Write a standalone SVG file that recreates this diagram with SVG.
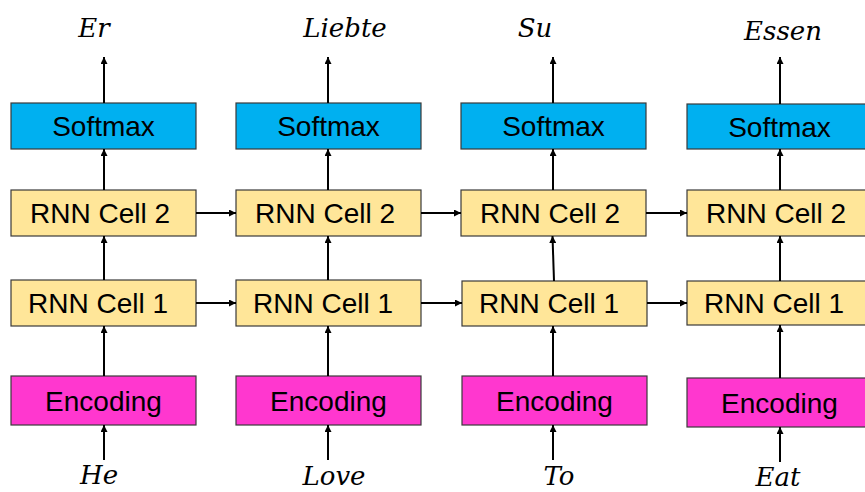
<svg xmlns="http://www.w3.org/2000/svg" width="865" height="492" viewBox="0 0 865 492">
  <defs>
    <marker id="arrow" viewBox="0 0 10 10" refX="10" refY="5" markerWidth="7" markerHeight="7" markerUnits="userSpaceOnUse" orient="auto">
      <path d="M0,0 L10,5 L0,10 Z" fill="#000"/>
    </marker>
    <style>
      .box { stroke: #3a3a3a; stroke-width: 1.2; }
      .soft { fill: #00B0F0; }
      .rnn { fill: #FFE699; }
      .enc { fill: #FF37CF; }
      .lbl { font-family: "Liberation Sans", Arial, sans-serif; font-size: 28px; fill: #000; text-anchor: middle; }
      .word { font-family: "DejaVu Serif", "Liberation Serif", serif; font-style: italic; font-size: 26px; fill: #000; text-anchor: middle; }
      .conn line { stroke: #000; stroke-width: 2; marker-end: url(#arrow); }
    </style>
  </defs>
  <rect width="865" height="492" fill="#fff"/>

  <!-- column 1 -->
  <g id="softmax-1"><rect class="box soft" x="11" y="103" width="185" height="46"/><text class="lbl" x="103.5" y="136">Softmax</text></g>
  <g id="rnn2-1"><rect class="box rnn" x="11" y="190" width="185" height="46"/><text class="lbl" x="100" y="223">RNN Cell 2</text></g>
  <g id="rnn1-1"><rect class="box rnn" x="11" y="280" width="185" height="46"/><text class="lbl" x="98" y="313">RNN Cell 1</text></g>
  <g id="enc-1"><rect class="box enc" x="11" y="376" width="185" height="49"/><text class="lbl" x="103.5" y="411">Encoding</text></g>
  <g id="out-1"><text class="word" x="94" y="37">Er</text></g>
  <g id="in-1"><text class="word" x="99" y="484">He</text></g>

  <!-- column 2 -->
  <g id="softmax-2"><rect class="box soft" x="236" y="103" width="185" height="46"/><text class="lbl" x="328.5" y="136">Softmax</text></g>
  <g id="rnn2-2"><rect class="box rnn" x="236" y="190" width="185" height="46"/><text class="lbl" x="325" y="223">RNN Cell 2</text></g>
  <g id="rnn1-2"><rect class="box rnn" x="236" y="280" width="185" height="46"/><text class="lbl" x="323" y="313">RNN Cell 1</text></g>
  <g id="enc-2"><rect class="box enc" x="236" y="376" width="185" height="49"/><text class="lbl" x="328.5" y="411">Encoding</text></g>
  <g id="out-2"><text class="word" x="345" y="37">Liebte</text></g>
  <g id="in-2"><text class="word" x="334" y="485">Love</text></g>

  <!-- column 3 -->
  <g id="softmax-3"><rect class="box soft" x="461" y="103" width="185" height="46"/><text class="lbl" x="553.5" y="136">Softmax</text></g>
  <g id="rnn2-3"><rect class="box rnn" x="461" y="190" width="185" height="46"/><text class="lbl" x="550" y="223">RNN Cell 2</text></g>
  <g id="rnn1-3"><rect class="box rnn" x="462" y="281" width="185" height="45"/><text class="lbl" x="549" y="313">RNN Cell 1</text></g>
  <g id="enc-3"><rect class="box enc" x="462" y="376" width="185" height="49"/><text class="lbl" x="554.5" y="411">Encoding</text></g>
  <g id="out-3"><text class="word" x="535" y="37">Su</text></g>
  <g id="in-3"><text class="word" x="559" y="485">To</text></g>

  <!-- column 4 -->
  <g id="softmax-4"><rect class="box soft" x="687" y="104" width="185" height="45"/><text class="lbl" x="779.5" y="137">Softmax</text></g>
  <g id="rnn2-4"><rect class="box rnn" x="687" y="190" width="185" height="46"/><text class="lbl" x="776" y="223">RNN Cell 2</text></g>
  <g id="rnn1-4"><rect class="box rnn" x="687" y="281" width="185" height="44"/><text class="lbl" x="774" y="313">RNN Cell 1</text></g>
  <g id="enc-4"><rect class="box enc" x="687" y="378" width="185" height="49"/><text class="lbl" x="779.5" y="413">Encoding</text></g>
  <g id="out-4"><text class="word" x="783" y="40">Essen</text></g>
  <g id="in-4"><text class="word" x="778" y="486">Eat</text></g>

  <!-- connectors -->
  <g class="conn" id="connectors">
    <!-- upward flow -->
    <line x1="104" y1="460" x2="104" y2="425"/>
    <line x1="104" y1="376" x2="104" y2="326"/>
    <line x1="104" y1="280" x2="104" y2="236"/>
    <line x1="104" y1="190" x2="104" y2="149"/>
    <line x1="104" y1="103" x2="104" y2="57"/>

    <line x1="328" y1="460" x2="328" y2="425"/>
    <line x1="328" y1="376" x2="328" y2="326"/>
    <line x1="328" y1="280" x2="328" y2="236"/>
    <line x1="328" y1="190" x2="328" y2="149"/>
    <line x1="328" y1="103" x2="328" y2="57"/>

    <line x1="553" y1="460" x2="553" y2="425"/>
    <line x1="553" y1="376" x2="553" y2="326"/>
    <line x1="554" y1="281" x2="552.5" y2="236"/>
    <line x1="553" y1="190" x2="553" y2="149"/>
    <line x1="553" y1="103" x2="553" y2="57"/>

    <line x1="780" y1="462" x2="780" y2="427"/>
    <line x1="780" y1="378" x2="780" y2="325"/>
    <line x1="780" y1="281" x2="780" y2="236"/>
    <line x1="780" y1="190" x2="780" y2="149"/>
    <line x1="780" y1="104" x2="780" y2="57"/>

    <!-- recurrent state -->
    <line x1="196" y1="213" x2="236" y2="213"/>
    <line x1="421" y1="213" x2="461" y2="213"/>
    <line x1="646" y1="213" x2="687" y2="213"/>
    <line x1="196" y1="303" x2="236" y2="303"/>
    <line x1="421" y1="303" x2="462" y2="303"/>
    <line x1="647" y1="303" x2="687" y2="303"/>
  </g>
</svg>
